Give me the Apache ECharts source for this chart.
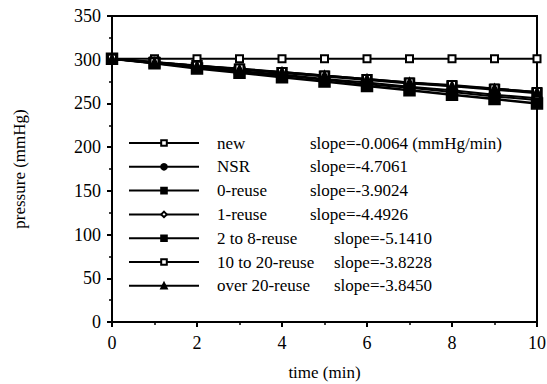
<!DOCTYPE html>
<html>
<head>
<meta charset="utf-8">
<script src="https://cdn.jsdelivr.net/npm/echarts@6/dist/echarts.min.js"></script>
<style>
  html, body { margin: 0; padding: 0; background: #fff; }
  #main { width: 547px; height: 384px; }
</style>
</head>
<body>
<div id="main"></div>
<script>
const times = [0, 1, 2, 3, 4, 5, 6, 7, 8, 9, 10];
const newData = [301, 301, 301, 301, 301, 301, 301, 301, 301, 301, 301];
const nsrData = [301, 296, 291, 286, 282, 277, 272, 268, 263, 258, 254];
const reuse0 = [301, 297, 293, 289, 285, 281, 277, 273, 270, 266, 262];
const reuse1 = [301, 296, 292, 287, 283, 278, 274, 269, 265, 260, 256];
const reuse2to8 = [301, 296, 290, 285, 280, 275, 270, 265, 260, 255, 250];
const reuse10to20 = [301, 297, 293, 290, 286, 282, 278, 274, 271, 267, 263];
const reuseOver20 = [301, 297, 293, 289, 286, 282, 278, 274, 270, 267, 263];
const slopes = {
    'new': 'slope=-0.0064 (mmHg/min)',
    'NSR': 'slope=-4.7061',
    '0-reuse': 'slope=-3.9024',
    '1-reuse': 'slope=-4.4926',
    '2 to 8-reuse': 'slope=-5.1410',
    '10 to 20-reuse': 'slope=-3.8228',
    'over 20-reuse': 'slope=-3.8450'
};
// the last three rows have their slope pushed further right
const wideNames = ['2 to 8-reuse', '10 to 20-reuse', 'over 20-reuse'];

const font = 'Liberation Serif, Times New Roman, serif';
const chart = echarts.init(document.getElementById('main'), null, { renderer: 'svg' });

function mk(name, data, symbol, size, lw) {
    return {
        name: name,
        type: 'line',
        data: times.map((t, i) => [t, data[i]]),
        symbol: symbol,
        symbolSize: size,
        clip: false,
        lineStyle: { color: '#000', width: lw },
        itemStyle: { color: '#000', borderColor: '#000', borderWidth: 1.5 },
        emphasis: { disabled: true }
    };
}

const txt = { fontFamily: font, fontSize: 17, color: '#000', lineHeight: 18 };

chart.setOption({
    animation: false,
    grid: {
        left: 112, right: 10, top: 16, bottom: 62,
        outerBoundsMode: 'none',
        show: true, borderColor: '#000', borderWidth: 2
    },
    legend: {
        orient: 'vertical',
        left: 123,
        top: 129,
        itemWidth: 70,
        itemHeight: 7,
        itemGap: 5.8,
        selectedMode: false,
        textStyle: {
            ...txt,
            rich: {
                n: { ...txt, width: 93, padding: [0, 0, 0, 13] },
                w: { ...txt, width: 117, padding: [0, 0, 0, 13] },
                s: { ...txt }
            }
        },
        formatter: name => '{' + (wideNames.includes(name) ? 'w' : 'n') + '|' + name + '}{s|' + slopes[name] + '}'
    },
    xAxis: {
        type: 'value',
        min: 0, max: 10, interval: 2,
        name: 'time (min)',
        nameLocation: 'middle',
        nameGap: 42,
        nameTextStyle: { fontFamily: font, fontSize: 17, color: '#000' },
        axisLine: { onZero: false, lineStyle: { color: '#000', width: 2 } },
        axisTick: { length: 5, lineStyle: { color: '#000', width: 2 } },
        minorTick: { show: true, splitNumber: 2, length: 3, lineStyle: { color: '#000', width: 1.5 } },
        axisLabel: { fontFamily: font, fontSize: 18, color: '#000', margin: 12 },
        splitLine: { show: false }
    },
    yAxis: {
        type: 'value',
        min: 0, max: 350, interval: 50,
        name: 'pressure (mmHg)',
        nameLocation: 'middle',
        nameGap: 84,
        nameTextStyle: { fontFamily: font, fontSize: 17, color: '#000' },
        axisLine: { show: true, lineStyle: { color: '#000', width: 2 } },
        axisTick: { show: true, length: 5, lineStyle: { color: '#000', width: 2 } },
        minorTick: { show: true, splitNumber: 2, length: 3, lineStyle: { color: '#000', width: 1.5 } },
        axisLabel: { fontFamily: font, fontSize: 18, color: '#000', margin: 11 },
        splitLine: { show: false }
    },
    series: [
        mk('new', newData, 'emptyRect', 7, 2),
        mk('NSR', nsrData, 'circle', 8, 2),
        mk('0-reuse', reuse0, 'rect', 10, 2.5),
        mk('1-reuse', reuse1, 'emptyDiamond', 8, 2),
        mk('2 to 8-reuse', reuse2to8, 'rect', 11, 2.5),
        mk('10 to 20-reuse', reuse10to20, 'emptyRect', 8, 2),
        mk('over 20-reuse', reuseOver20, 'triangle', 9, 2)
    ]
});
</script>
</body>
</html>
